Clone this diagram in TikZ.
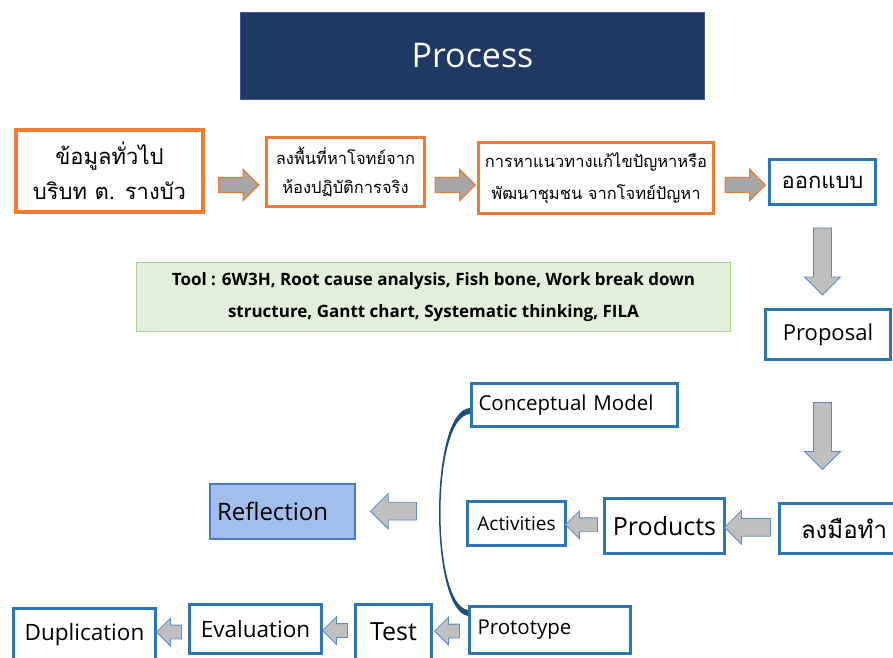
\documentclass[tikz,border=0pt]{standalone}
\usepackage{fontspec}
\setmainfont{Open Sans}
\newfontfamily\thaifont[Script=Thai]{Loma}
\usetikzlibrary{shapes.arrows}

\definecolor{boxorange}{HTML}{ED7D31}
\definecolor{boxblue}{HTML}{2E75B6}
\definecolor{titlenavy}{HTML}{203864}
\definecolor{titleedge}{HTML}{3A5C9C}
\definecolor{toolgreen}{HTML}{E2EFDA}
\definecolor{toolline}{HTML}{A9D18E}
\definecolor{reflblue}{HTML}{A1BEEC}
\definecolor{refledge}{HTML}{4A7EC4}
\definecolor{arrowgray}{HTML}{A6A6A6}
\definecolor{arrowlight}{HTML}{BFBFBF}
\definecolor{arrowedge}{HTML}{5B8BC9}
\definecolor{curveblue}{HTML}{1F4E79}

\newcommand{\fs}[2]{\fontsize{#1}{#2}\selectfont}

\begin{document}
\begin{tikzpicture}[
    x=1pt, y=-1pt,
    obox/.style={rectangle, draw=boxorange, line width=3pt, fill=white, align=center, inner sep=2pt},
    bbox/.style={rectangle, draw=boxblue, line width=3pt, fill=white, align=center, inner sep=2pt},
    harrow/.style={single arrow, draw=boxorange, line width=1.2pt, fill=arrowgray,
                   inner xsep=0pt, inner ysep=7pt, single arrow head extend=8pt, minimum height=40pt},
    darrow/.style={single arrow, shape border rotate=270, draw=arrowedge, line width=0.8pt, fill=arrowlight,
                   inner xsep=8.5pt, inner ysep=0pt, single arrow head extend=9pt, minimum height=67pt},
    larrow/.style={single arrow, shape border rotate=180, draw=arrowedge, line width=0.8pt, fill=arrowlight,
                   inner xsep=0pt, inner ysep=6.5pt, single arrow head extend=7pt, minimum height=25pt}
]
\useasboundingbox (0,0) rectangle (893,657);

% Title
\node[rectangle, draw=titleedge, line width=1pt, fill=titlenavy, text=white,
      minimum width=464pt, minimum height=87pt, font=\fs{34}{40}] (title) at (472.5,56) {Process};

% Top row
\node[obox, line width=4pt, minimum width=187pt, minimum height=82pt, font=\thaifont\fs{22}{35}] (info) at (109.5,171)
    {ข้อมูลทั่วไป\\บริบท ต. รางบัว};
\node[obox, minimum width=158pt, minimum height=69pt, font=\thaifont\fs{16.5}{29}] (field) at (345.5,172)
    {ลงพื้นที่หาโจทย์จาก\\ห้องปฏิบัติการจริง};
\node[obox, minimum width=235pt, minimum height=71pt, font=\thaifont\fs{16.5}{32}] (solve) at (596,178)
    {การหาแนวทางแก้ไขปัญหาหรือ\\พัฒนาชุมชน จากโจทย์ปัญหา};
\node[bbox, minimum width=106pt, minimum height=45pt, font=\thaifont\fs{22}{26}] (design) at (822.5,182) {ออกแบบ};

\coordinate (arrowrow) at (0,185);
\path (info.east |- arrowrow) -- (field.west |- arrowrow) node[midway, harrow] {};
\path (field.east |- arrowrow) -- (solve.west |- arrowrow) node[midway, harrow] {};
\path (solve.east |- arrowrow) -- (design.west |- arrowrow) node[midway, harrow] {};

% Tools
\node[rectangle, draw=toolline, line width=1pt, fill=toolgreen, align=center,
      minimum width=594pt, minimum height=69pt, font=\bfseries\fs{17}{32}] (tool) at (433.5,297)
    {Tool : 6W3H, Root cause analysis, Fish bone, Work break down\\structure, Gantt chart, Systematic thinking, FILA};

% Right column
\node[bbox, minimum width=125pt, minimum height=50pt, font=\fs{22}{26}] (proposal) at (828,334.5) {Proposal};
\node[bbox, minimum width=129pt, minimum height=50pt, font=\thaifont\fs{24}{28}] (handson) at (844,528.5) {ลงมือทำ};

\path (design.south) -- (design.south |- proposal.north) node[midway, darrow] {};
\path (design.south |- proposal.south) -- (design.south |- handson.north) node[midway, darrow] {};

% Middle row
\node[bbox, minimum width=120pt, minimum height=55pt, font=\fs{25}{28}] (products) at (664.5,526) {Products};
\node[bbox, minimum width=98pt, minimum height=44pt, font=\fs{19}{22}] (activities) at (516.5,523.5) {Activities};
\node[bbox, minimum width=206pt, minimum height=43pt, text width=192pt, align=left, font=\fs{20.5}{22}] (concept) at (574.5,405) {Conceptual Model};
\node[rectangle, draw=refledge, line width=2pt, fill=reflblue, minimum width=145pt, minimum height=55pt,
      text width=131pt, align=left, font=\fs{24}{28}] (refl) at (282.5,511.5) {Reflection};

\path (handson.west) -- (products.east) node[midway, larrow, minimum height=46pt, inner ysep=8.5pt, single arrow head extend=8pt] {};
\path (products.west) -- (activities.east) node[midway, larrow, minimum height=32pt] {};

% Bottom row
\node[bbox, minimum width=161pt, minimum height=47pt, text width=145pt, align=left, font=\fs{20.5}{24}] (proto) at (550,630) {Prototype};
\node[bbox, minimum width=76pt, minimum height=55pt, font=\fs{25}{28}] (test) at (393.5,632) {Test};
\node[bbox, minimum width=132pt, minimum height=49pt, font=\fs{22.5}{26}] (eval) at (255.5,629) {Evaluation};
\node[bbox, minimum width=142pt, minimum height=53pt, font=\fs{22.5}{26}] (dup) at (84.5,635) {Duplication};

\path (proto.west) -- (test.east) node[midway, larrow] {};
\path (test.west) -- (eval.east) node[midway, larrow] {};
\path (eval.west) -- (dup.east) node[midway, larrow] {};

% Concept to prototype, thick at both ends
\fill[curveblue]
    ([yshift=-3pt]concept.west) .. controls (429,410) and (429,610) .. ([yshift=14pt]proto.west)
    -- ([yshift=20pt]proto.west) .. controls (431,605) and (431,416) .. ([yshift=-9pt]concept.west) -- cycle;
\path ([yshift=-6pt]concept.west) .. controls (430,414) and (430,607) .. ([yshift=18pt]proto.west)
    coordinate[pos=0.5] (bend);
\path (bend) -- (refl.east) node[midway, larrow, minimum height=46pt, inner ysep=8.5pt, single arrow head extend=9pt] {};

\end{tikzpicture}
\end{document}
